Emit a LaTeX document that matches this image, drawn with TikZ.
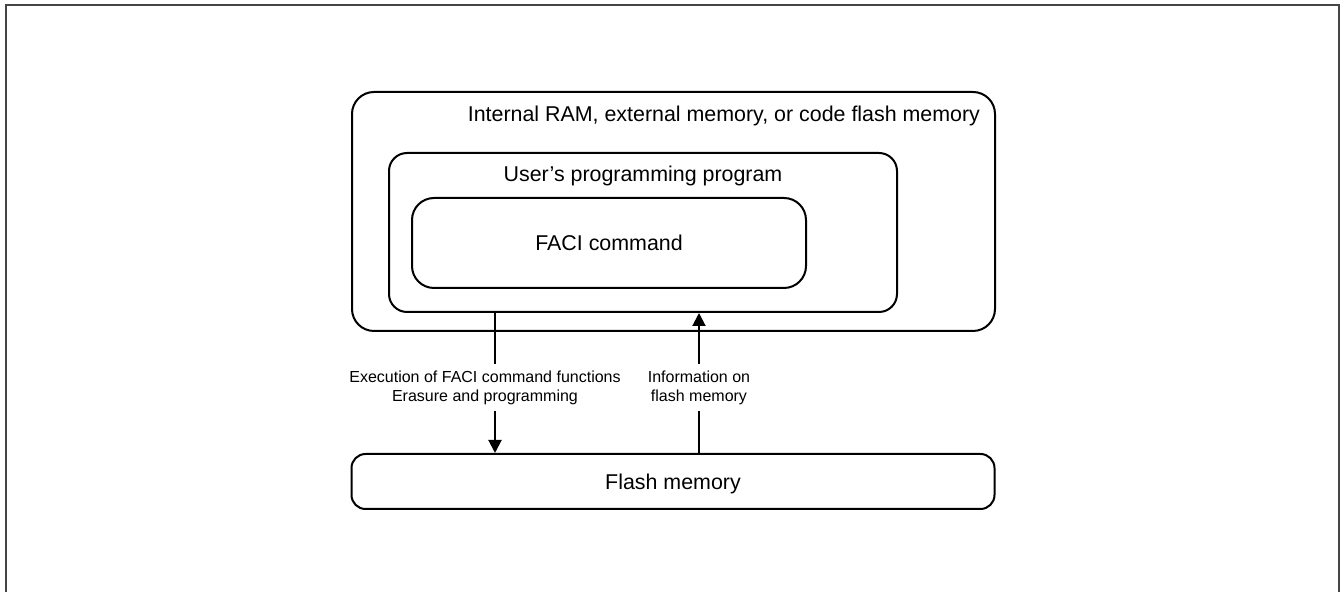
\documentclass[tikz,border=0pt]{standalone}
\usepackage{fontspec}
\setmainfont{Liberation Sans}
\usetikzlibrary{arrows.meta, positioning}
\definecolor{cframe}{HTML}{454545}
\tikzset{
  every picture/.style={line width=1pt},
  membox/.style={draw=black, rounded corners=#1, inner sep=0pt, font=\fontsize{10.7}{13}\selectfont},
  membox/.default=10pt,
  arrow/.style={-{Triangle[length=6.5pt, width=6.5pt]}, draw=black},
  title/.style={font=\fontsize{10.7}{13}\selectfont, inner sep=0pt},
  note/.style={font=\fontsize{8}{9.5}\selectfont, align=center, fill=white, inner xsep=1pt, inner ysep=3.2pt},
}

\begin{document}
\begin{tikzpicture}[x=0.5pt, y=-0.5pt]
  \useasboundingbox (0,0) rectangle (1341,592);
  \clip (0,0) rectangle (1341,592);
  \draw[cframe] (6,5) rectangle (1339,620);
  % nested memory boxes
  \node[membox=11pt, minimum width=321.5pt, minimum height=119.5pt] (mem) at (673.5,211.5) {};
  \node[membox=9pt, minimum width=254pt, minimum height=79.5pt] (user) at (643,232.5) {};
  \node[membox=11pt, minimum width=197pt, minimum height=45pt] (faci) at (609,243) {FACI command};
  \node[membox=7pt, minimum width=321.5pt, minimum height=27.5pt, text depth=0pt] (flash) at (673,481.5) {Flash memory};
  \node[title, anchor=base east] (memtxt) at (981,121.5) {Internal RAM, external memory, or code flash memory};
  \node[title, anchor=base] (usertxt) at (643,182) {User's programming program};
  % connectors
  \coordinate (dn) at (495,0);
  \coordinate (up) at (699,0);
  \draw[arrow] (user.south -| dn) -- (flash.north -| dn);
  \draw[arrow] (flash.north -| up) -- (user.south -| up);
  \node[note] (exec) at (485,387.5) {Execution of FACI command functions\\Erasure and programming};
  \node[note] (info) at (699,387.5) {Information on\\flash memory};
\end{tikzpicture}
\end{document}
